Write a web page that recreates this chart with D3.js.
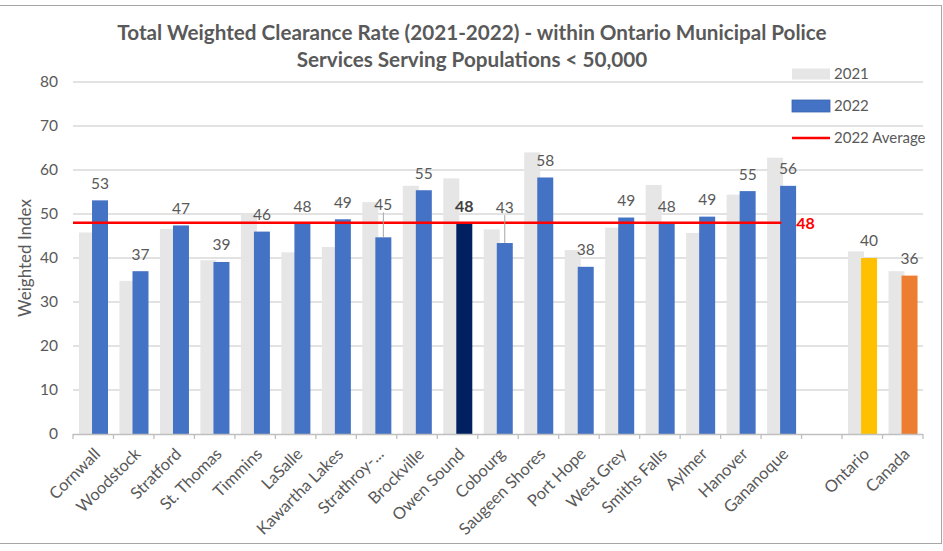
<!DOCTYPE html>
<html><head><meta charset="utf-8">
<script src="https://cdn.jsdelivr.net/npm/d3@7"></script>
<style>
html,body{margin:0;padding:0;background:#fff;}
svg{display:block;font-family:Lato,"Open Sans",sans-serif;}
</style></head>
<body>
<svg id="c" width="943" height="551"></svg>
<script>
// ---- data ----
const categories = ["Cornwall","Woodstock","Stratford","St. Thomas","Timmins","LaSalle","Kawartha Lakes","Strathroy-...","Brockville","Owen Sound","Cobourg","Saugeen Shores","Port Hope","West Grey","Smiths Falls","Aylmer","Hanover","Gananoque","","Ontario","Canada"];
const values2021 = [45.8,34.8,46.6,39.5,50.0,41.3,42.5,52.7,56.4,58.1,46.5,64.0,41.8,46.9,56.6,45.7,54.4,62.8,null,41.5,37.0];
const values2022 = [53.1,37.0,47.4,39.1,46.0,47.9,48.8,44.7,55.4,47.9,43.4,58.3,38.0,49.2,47.9,49.4,55.2,56.4,null,40.0,36.0];
const labelLift = [0,0,0,0,0,0,0,3.6,0,0,4.3,0,0,0,0,0,0,0,0,0,0];
const average2022 = 48;
const yTicks = [0,10,20,30,40,50,60,70,80];
const titleLines = ["Total Weighted Clearance Rate (2021-2022) - within Ontario Municipal Police","Services Serving Populations < 50,000"];
const legendLabels = ["2021","2022","2022 Average"];

// ---- styles ----
const C = {gray:"#e6e6e6", blue:"#4472c4", navy:"#002060", yellow:"#ffc000", orange:"#ed7d31", red:"#ff0000", text:"#595959", grid:"#d9d9d9", axis:"#bfbfbf"};
function barColor(c){ if(c==="Owen Sound") return C.navy; if(c==="Ontario") return C.yellow; if(c==="Canada") return C.orange; return C.blue; }

const svg = d3.select("#c");
const L=73, R=923, T=82, B=434;
const x = d3.scaleBand().domain(categories.map((c,i)=>i)).range([L,R]).padding(0);
const y = d3.scaleLinear().domain([0,80]).range([B,T]);
const bw = x.bandwidth();
const barW = bw*0.395, grayOff = bw*0.148, colOff = bw*0.47;

// frame
svg.append("rect").attr("x",-2).attr("y",5.5).attr("width",943.5).attr("height",538)
  .attr("fill","none").attr("stroke","#a6a6a6").attr("stroke-width",1);

// title
const tg = svg.append("g");
titleLines.forEach((t,i)=>{
  tg.append("text").attr("x",472).attr("y",40+i*27).attr("text-anchor","middle")
    .attr("font-size",19).attr("font-weight","bold").attr("fill",C.text).text(t);
});
(function(){
  const n = tg.select("text").node(); const w = n.getComputedTextLength();
  const fs = 19*710/w; tg.selectAll("text").attr("font-size",fs);
})();

// gridlines
svg.append("g").selectAll("line").data(yTicks.filter(v=>v>0)).join("line")
  .attr("x1",L).attr("x2",R).attr("y1",d=>y(d)).attr("y2",d=>y(d))
  .attr("stroke",C.grid).attr("stroke-width",1.3);

// y axis labels
svg.append("g").selectAll("text").data(yTicks).join("text")
  .attr("x",58).attr("y",d=>y(d)).attr("dy","0.35em").attr("text-anchor","end")
  .attr("font-size",15.5).attr("fill",C.text).text(d=>d);
svg.append("text").attr("transform",`translate(25,258) rotate(-90)`).attr("text-anchor","middle")
  .attr("dy","0.35em").attr("font-size",17).attr("fill",C.text).text("Weighted Index");

// bars 2021
const idx = categories.map((c,i)=>i).filter(i=>values2021[i]!=null);
svg.append("g").selectAll("rect").data(idx).join("rect")
  .attr("x",i=>x(i)+grayOff).attr("width",barW)
  .attr("y",i=>y(values2021[i])).attr("height",i=>B-y(values2021[i])).attr("fill",C.gray);
// bars 2022
svg.append("g").selectAll("rect").data(idx).join("rect")
  .attr("x",i=>x(i)+colOff).attr("width",barW)
  .attr("y",i=>y(values2022[i])).attr("height",i=>B-y(values2022[i])).attr("fill",i=>barColor(categories[i]));

// x axis
svg.append("line").attr("x1",L).attr("x2",R).attr("y1",B+0.5).attr("y2",B+0.5).attr("stroke",C.axis).attr("stroke-width",1.3);
const bounds = d3.range(categories.length+1).map(k=>L+k*bw);
svg.append("g").selectAll("line").data(bounds).join("line")
  .attr("x1",d=>d).attr("x2",d=>d).attr("y1",B).attr("y2",B+5).attr("stroke",C.axis).attr("stroke-width",1.3);

// x labels
svg.append("g").selectAll("text").data(idx).join("text")
  .attr("transform",i=>`translate(${x(i)+bw/2+4},${B+17}) rotate(-45)`)
  .attr("text-anchor","end").attr("dy","0.35em").attr("font-size",16.5).attr("fill",C.text)
  .text(i=>categories[i]);

// average line
const gIdx = categories.indexOf("Gananoque");
const avgEnd = x(gIdx)+bw/2;
svg.append("line").attr("x1",L).attr("x2",avgEnd).attr("y1",y(average2022)).attr("y2",y(average2022))
  .attr("stroke",C.red).attr("stroke-width",2.6);
svg.append("text").attr("x",avgEnd+15).attr("y",y(average2022)+1).attr("dy","0.35em")
  .attr("font-size",16).attr("font-weight","bold").attr("fill",C.red).text(average2022);

// leader lines
const lifted = idx.filter(i=>labelLift[i]>0);
svg.append("g").selectAll("line").data(lifted).join("line")
  .attr("x1",i=>x(i)+colOff+barW/2).attr("x2",i=>x(i)+colOff+barW/2)
  .attr("y1",i=>y(values2022[i]+labelLift[i])-17+8).attr("y2",i=>y(values2022[i]))
  .attr("stroke","#a6a6a6").attr("stroke-width",1);

// data labels
svg.append("g").selectAll("text").data(idx).join("text")
  .attr("x",i=>x(i)+colOff+barW/2).attr("y",i=>y(values2022[i]+labelLift[i])-17)
  .attr("dy","0.35em").attr("text-anchor","middle")
  .attr("font-size",i=>categories[i]==="Owen Sound"?16:15.5)
  .attr("font-weight",i=>categories[i]==="Owen Sound"?"bold":"normal")
  .attr("fill",i=>categories[i]==="Owen Sound"?"#404040":C.text)
  .text(i=>Math.round(values2022[i]));

// legend
const lg = svg.append("g");
const lx=792, ly=[74,106,138];
lg.append("rect").attr("x",lx).attr("y",ly[0]-5.5).attr("width",38).attr("height",11).attr("fill",C.gray);
lg.append("rect").attr("x",lx).attr("y",ly[1]-6).attr("width",38).attr("height",12).attr("fill",C.blue).attr("stroke","#3a64b0").attr("stroke-width",0.8);
lg.append("line").attr("x1",lx).attr("x2",lx+38).attr("y1",ly[2]).attr("y2",ly[2]).attr("stroke",C.red).attr("stroke-width",2.6);
legendLabels.forEach((t,k)=>{
  lg.append("text").attr("x",lx+42).attr("y",ly[k]).attr("dy","0.35em").attr("font-size",15).attr("fill",C.text).text(t);
});
</script>
</body></html>
